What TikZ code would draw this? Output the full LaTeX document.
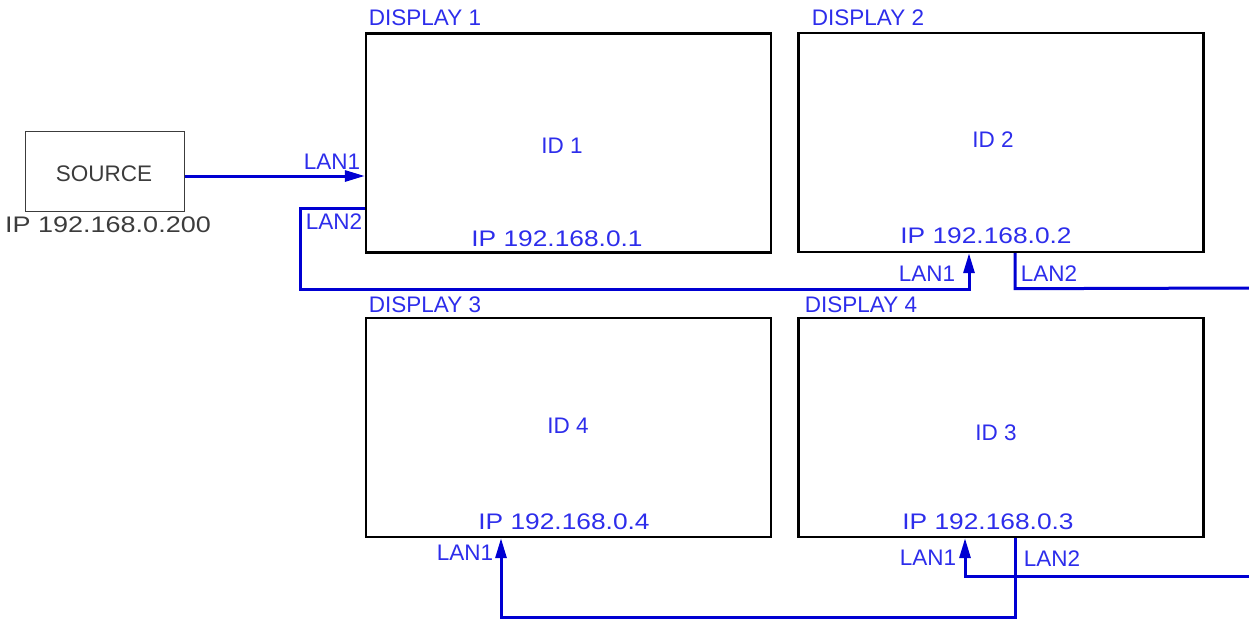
\documentclass[tikz,border=0pt]{standalone}
\usepackage{fontspec}
\setmainfont{Liberation Sans}
\newfontfamily\ipf[FakeStretch=1.17]{Liberation Sans}
\newfontfamily\ipg[FakeStretch=1.2]{Liberation Sans}
\usetikzlibrary{arrows.meta}
\definecolor{txtblue}{RGB}{45,45,235}
\definecolor{lnblue}{RGB}{0,0,210}
\definecolor{srcgray}{RGB}{60,60,60}
\tikzset{
  display/.style={draw=black,line width=2.4pt,minimum width=405pt,minimum height=219pt,inner sep=0pt},
  srcbox/.style={draw=srcgray,line width=1pt,minimum width=159pt,minimum height=80pt,inner sep=0pt},
  srctxt/.style={text=srcgray,inner sep=0pt,font=\fontsize{22.5}{26}\selectfont},
  lbl/.style={text=txtblue,inner sep=0pt,font=\fontsize{22.5}{26}\selectfont},
  iplbl/.style={text=txtblue,inner sep=0pt,font=\fontsize{22.5}{26}\selectfont\ipf},
  link/.style={draw=lnblue,line width=3pt},
  arr/.style={link,-{Triangle[length=20pt,width=11pt]}}
}
\begin{document}
\begin{tikzpicture}[x=1pt,y=-1pt]
\useasboundingbox (0,0) rectangle (1249,618);
% source
\node[srcbox] (src) at (104.5,171) {};
\node[srctxt] (srcname) at (104,174) {SOURCE};
\node[srctxt,font=\fontsize{22.5}{26}\selectfont\ipg] (srcip) at (108,225) {IP 192.168.0.200};
% displays
\node[display] (d1) at (568.5,143) {};
\node[display] (d2) at (1001,142.5) {};
\node[display] (d3) at (568.5,427.5) {};
\node[display] (d4) at (1001,427.5) {};
% titles
\node[lbl] (t1) at (425,18) {DISPLAY 1};
\node[lbl] (t2) at (868,18) {DISPLAY 2};
\node[lbl] (t3) at (425,305) {DISPLAY 3};
\node[lbl] (t4) at (861,305) {DISPLAY 4};
% ids
\node[lbl] (id1) at (562,146) {ID 1};
\node[lbl] (id2) at (993,140) {ID 2};
\node[lbl] (id4) at (568,426) {ID 4};
\node[lbl] (id3) at (996,433) {ID 3};
% ips
\node[iplbl] (ip1) at (557,239) {IP 192.168.0.1};
\node[iplbl] (ip2) at (986,236) {IP 192.168.0.2};
\node[iplbl] (ip4) at (564,522) {IP 192.168.0.4};
\node[iplbl] (ip3) at (988,522) {IP 192.168.0.3};
% port labels
\node[lbl] (l1a) at (332,162) {LAN1};
\node[lbl] (l2a) at (334,222) {LAN2};
\node[lbl] (l1b) at (927,274) {LAN1};
\node[lbl] (l2b) at (1049,274) {LAN2};
\node[lbl] (l1c) at (465,553) {LAN1};
\node[lbl] (l1d) at (928,558) {LAN1};
\node[lbl] (l2d) at (1052,559) {LAN2};
% free ends
\coordinate (e1) at (1252,288);
\coordinate (e2) at (1252,576);
% connectors
\draw[arr] ([yshift=-5pt]src.east) -- ([yshift=-33pt]d1.west);
\draw[arr] ([yshift=-65pt]d1.west) -- ++(-64,0) -- ++(0,81) -| ([xshift=-32pt]d2.south);
\draw[link] ([xshift=14pt]d2.south) -- ++(0,35.5) -- (e1);
\draw[arr] (e2) -| ([xshift=-36pt]d4.south);
\draw[arr] ([xshift=14pt]d4.south) -- ++(0,79) -| ([xshift=-67.5pt]d3.south);
\end{tikzpicture}
\end{document}
